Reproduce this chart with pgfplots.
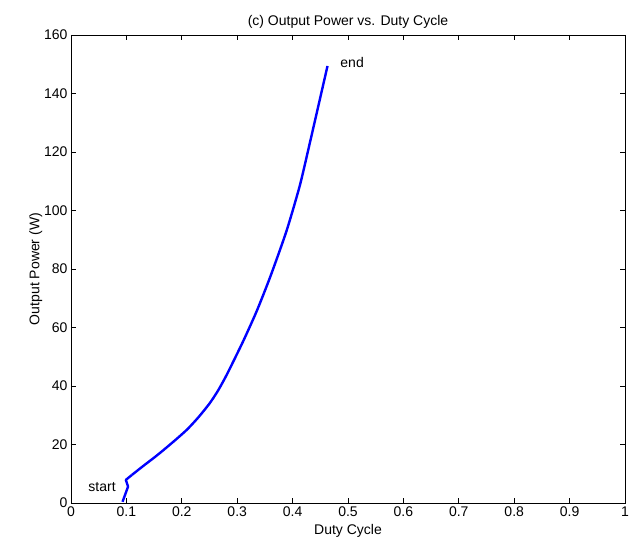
\documentclass[border=0pt]{standalone}
\usepackage{pgfplots}
\pgfplotsset{compat=1.18}
\usepackage{fontspec}
\setmainfont{Liberation Sans}
\begin{document}
\begin{tikzpicture}
\begin{axis}[
  scale only axis,
  width=554pt, height=468pt,
  xmin=0, xmax=1, ymin=0, ymax=160,
  xtick={0,0.1,...,1.0001},
  ytick={0,20,...,160},
  xticklabels={0,0.1,0.2,0.3,0.4,0.5,0.6,0.7,0.8,0.9,1},
  tick align=inside,
  tick pos=both,
  major tick length=5pt,
  axis line style={black, line width=0.8pt},
  every tick/.style={black, line width=0.8pt},
  /pgf/number format/assume math mode=true,
  tick label style={font=\fontsize{14}{16}\selectfont},
  label style={font=\fontsize{14}{16}\selectfont},
  title style={font=\fontsize{14}{16}\selectfont, yshift=-3pt},
  title={(c) Output Power vs. Duty Cycle},
  xlabel={Duty Cycle},
  ylabel={Output Power (W)},
  xlabel style={yshift=-1pt},
  ylabel style={yshift=-5pt},
  clip=false,
]
\addplot[blue, line width=2.4pt, line join=round] coordinates {
(0.093,0.4) (0.103,5.6) (0.099,7.9) (0.11,9.6)
};
\addplot[blue, line width=2.4pt, line join=round, smooth, tension=0.4] coordinates {
(0.11,9.6) (0.13,12.6) (0.15,15.5)
(0.167,18.1) (0.19,21.8) (0.21,25.2) (0.23,29.3) (0.25,34) (0.265,38.3)
(0.281,43.8) (0.31,55)
(0.335,65.5) (0.36,77.5) (0.389,93) (0.413,108.5) (0.431,123)
(0.448,137) (0.463,149.4)
};
\node[anchor=east, font=\fontsize{14}{16}\selectfont] at (axis cs:0.087,5.5) {start};
\node[anchor=west, font=\fontsize{14}{16}\selectfont] at (axis cs:0.48,150.5) {end};
\coordinate (sw) at (rel axis cs:0,0);
\coordinate (ne) at (rel axis cs:1,1);
\end{axis}
\pgfresetboundingbox
\path[use as bounding box] ([shift={(-71pt,-52pt)}]sw) rectangle ([shift={(12pt,35pt)}]ne);
\end{tikzpicture}
\end{document}
